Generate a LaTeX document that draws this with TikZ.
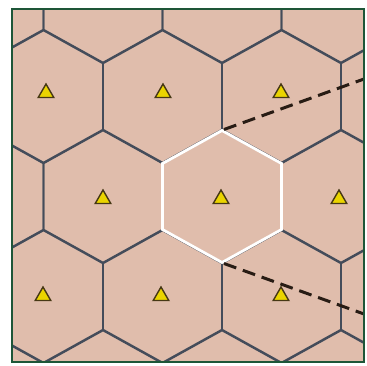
\documentclass[tikz,border=0pt]{standalone}
\usepackage{xcolor}
\usepackage{tikz}
\usetikzlibrary{shapes.geometric, calc}
\definecolor{cellbg}{RGB}{224,189,172}
\definecolor{cellline}{RGB}{68,76,90}
\definecolor{framegreen}{RGB}{30,86,56}
\definecolor{siteyellow}{RGB}{234,212,0}
\definecolor{siteedge}{RGB}{70,56,20}
\definecolor{beamline}{RGB}{40,28,20}

% one hexagonal cell, centre (#2,#3), pointy top
\newcommand{\hexcell}[3][]{%
  \draw[#1] (#2,#3-66) -- (#2+59.5,#3-33) -- (#2+59.5,#3+33) -- (#2,#3+66)
    -- (#2-59.5,#3+33) -- (#2-59.5,#3-33) -- cycle;}

\begin{document}
\begin{tikzpicture}[
    x=1pt, y=-1pt,
    cell/.style={draw=cellline, line width=1.6pt},
    home/.style={draw=white, line width=2.8pt},
    site/.style={regular polygon, regular polygon sides=3, draw=siteedge, fill=siteyellow, line width=1.4pt, minimum size=18pt, inner sep=0pt},
    beam/.style={draw=beamline, line width=3pt, dash pattern=on 13pt off 7pt},
    border/.style={draw=framegreen, line width=2.4pt}
]
\useasboundingbox (0,0) rectangle (367,365);

% Background
\fill[cellbg] (12,9) rectangle (364,362);

% Cells
\begin{scope}
\clip (12,9) rectangle (364,362);
\foreach \cy in {-3.5,196.5,396.5}{
  \foreach \cx in {-16,103,222,341,460}{
    \hexcell[cell]{\cx}{\cy}
  }
}
\foreach \cy in {96.5,296.5}{
  \foreach \cx in {43.5,162.5,281.5,400.5}{
    \hexcell[cell]{\cx}{\cy}
  }
}
\hexcell[home]{222}{196.5}

% Sector edges
\coordinate (hometop) at (224,129.5);
\coordinate (homebot) at (224,263.5);
\coordinate (edgeup) at (364,79);
\coordinate (edgedown) at (364,314);
\draw[beam] (hometop) -- (edgeup);
\draw[beam] (homebot) -- (edgedown);
\end{scope}

% Sites
\foreach \sx/\sy [count=\i] in {46/93, 163/93, 281/93, 103/199, 221/199, 339/199, 43/296, 161/296, 281/296}
  \node[site] (site\i) at (\sx,\sy) {};

% Frame
\draw[border] (12,9) rectangle (364,362);

\end{tikzpicture}
\end{document}
